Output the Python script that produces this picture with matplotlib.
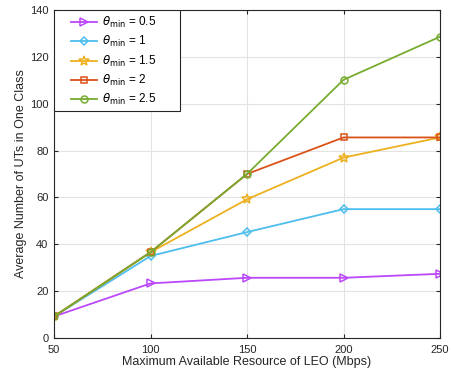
import matplotlib
matplotlib.use('Agg')
import matplotlib.pyplot as plt
from matplotlib.patches import Rectangle

# data
resource = [50, 100, 150, 200, 250]
theta_labels = ['0.5', '1', '1.5', '2', '2.5']
ut_05 = [9.2, 23.3, 25.7, 25.7, 27.4]
ut_1 = [9.2, 35.0, 45.2, 55.0, 55.0]
ut_15 = [9.2, 36.6, 59.2, 77.0, 85.6]
ut_2 = [9.2, 36.6, 70.0, 85.6, 85.6]
ut_25 = [9.2, 36.6, 70.0, 110.2, 128.6]

series = [ut_05, ut_1, ut_15, ut_2, ut_25]
colors = ['#BB48FA', '#4DBEEE', '#EDB120', '#D95319', '#77AC30']
markers = ['>', 'D', '*', 's', 'o']
msizes = [6, 4.5, 7.5, 4.5, 5]

plt.rcParams['font.family'] = ['Liberation Sans', 'DejaVu Sans']
plt.rcParams['mathtext.fontset'] = 'dejavusans'

fig = plt.figure(figsize=(4.51, 3.79), dpi=100)
ax_w, ax_h = 386, 328
ax = fig.add_axes([54 / 451, 41 / 379, ax_w / 451, ax_h / 379])

for vals, c, m, ms, lab in zip(series, colors, markers, msizes, theta_labels):
    ax.plot(resource, vals, color=c, marker=m, markersize=ms, markerfacecolor='none',
            markeredgewidth=1.1, linewidth=1.3, label=r'$\theta_{\rm min}$ = ' + lab)

ax.set_xlim(50, 250)
ax.set_ylim(0, 140)
ax.set_xticks(resource)
ax.set_yticks(range(0, 141, 20))
ax.grid(True, color='#E3E3E3', linewidth=0.8)
ax.set_axisbelow(True)
ax.tick_params(direction='in', top=True, right=True, labelsize=8, colors='#262626',
               length=3, width=0.8)
ax.tick_params(axis='x', pad=5)
ax.tick_params(axis='y', pad=4)
for sp in ax.spines.values():
    sp.set_color('#262626')
    sp.set_linewidth(0.8)

ax.set_xlabel('Maximum Available Resource of LEO (Mbps)', fontsize=9, color='#262626', labelpad=1)
ax.set_ylabel('Average Number of UTs in One Class', fontsize=9, color='#262626', labelpad=2)

# MATLAB-like legend: roomy box drawn separately
leg = ax.legend(loc='upper left', bbox_to_anchor=(17 / ax_w, 1 - 5 / ax_h), fontsize=8.5,
                frameon=False, borderaxespad=0, borderpad=0, handlelength=2.2,
                labelspacing=0.36, handletextpad=0.45)
leg.set_zorder(6)
ax.add_patch(Rectangle((0, 1 - 101 / ax_h), 126 / ax_w, 101 / ax_h, transform=ax.transAxes,
                       facecolor='white', edgecolor='#262626', linewidth=0.8, zorder=5))

fig.savefig('out.png', dpi=100)
